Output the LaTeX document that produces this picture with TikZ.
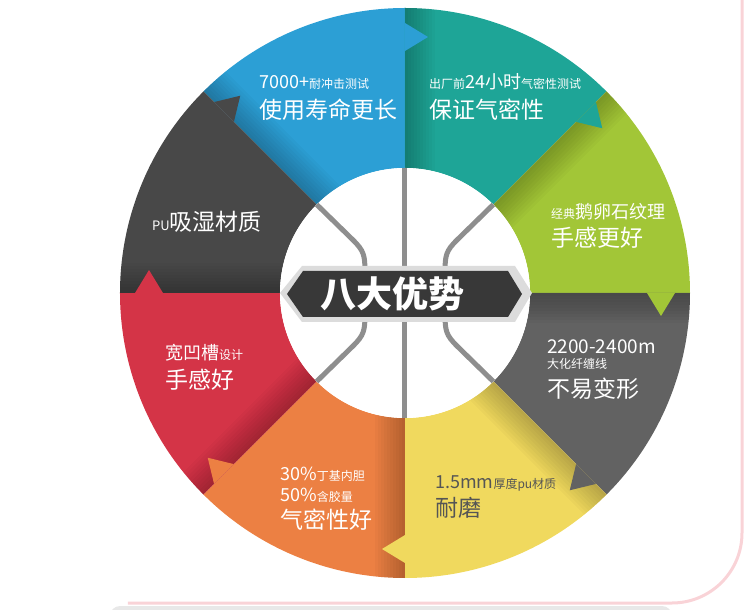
\documentclass[tikz,border=0pt]{standalone}
\usepackage{fontspec}
\newfontfamily\cjk{Noto Sans CJK SC}
\definecolor{segblue}{RGB}{44,159,213}
\definecolor{segteal}{RGB}{30,165,151}
\definecolor{seggreen}{RGB}{162,198,55}
\definecolor{seggrayR}{RGB}{98,98,98}
\definecolor{segyellow}{RGB}{240,217,94}
\definecolor{segorange}{RGB}{236,128,67}
\definecolor{segred}{RGB}{212,52,71}
\definecolor{seggrayL}{RGB}{72,72,72}
\definecolor{seamgray}{RGB}{142,142,142}
\definecolor{bannerdark}{RGB}{56,56,56}
\definecolor{bannerframe}{RGB}{220,220,220}
\definecolor{yellowtext}{RGB}{85,85,85}
\definecolor{framepink}{RGB}{249,211,215}
\definecolor{panelgray}{RGB}{232,232,232}
\newcommand\txtsm[1]{{\fontsize{12}{14}\selectfont #1}}
\newcommand\txtmd[1]{{\fontsize{18}{21}\selectfont #1}}
\newcommand\txtlg[1]{{\fontsize{23}{27}\selectfont #1}}

\begin{document}
\begin{tikzpicture}[x=1pt, y=1pt,
    lbl/.style={anchor=west, inner sep=0pt, text=white, font=\cjk},
    seam/.style={line width=5pt, draw=seamgray}
  ]
  \useasboundingbox (-405,-317) rectangle (345,293);

  % frame of the page
  \fill[panelgray, rounded corners=10pt] (-295,-313) rectangle (267,-345);
  \draw[framepink, line width=3pt] (337,293) -- (337,-240)
    arc[start angle=0, end angle=-90, radius=70] -- (-277,-310);

  % the eight sectors, with a soft shadow on the leading edge
  \foreach \a/\col in {135/segblue, 90/segteal, 45/seggreen, 0/seggrayR,
      -45/segyellow, -90/segorange, -135/segred, 180/seggrayL}{
    \pgfmathsetmacro\b{\a-45}
    \fill[\col] (\a:125) -- (\a:285) arc[start angle=\a, end angle=\b, radius=285]
      -- (\b:125) arc[start angle=\b, end angle=\a, radius=125] -- cycle;
    \begin{scope}
      \clip (\a:125) -- (\a:285) arc[start angle=\a, end angle=\b, radius=285]
        -- (\b:125) arc[start angle=\b, end angle=\a, radius=125] -- cycle;
      \foreach \k in {1,...,10}
        \fill[black, opacity=0.022, rotate=\a] (120,-3*\k) rectangle (290,0);
    \end{scope}
  }
  % arrow tips
  \foreach \b/\col in {90/segblue, 45/segteal, 0/seggreen, -45/seggrayR,
      -90/segyellow, -135/segorange, 180/segred, 135/seggrayL}
    \fill[\col, rotate=\b] (242,0) -- (256,-23) -- (270,0) -- cycle;

  % centre
  \fill[white] (0,0) circle[radius=125];
  \begin{scope}
    \clip (0,0) circle[radius=125];
    \draw[seam] (0,130) -- (0,-130);
    \draw[seam] (135:135) -- (-52,53) .. controls (-41,42) and (-40,38) .. (-40,20);
    \draw[seam] (45:135) -- (52,53) .. controls (41,42) and (40,38) .. (40,20);
    \draw[seam] (-135:135) -- (-52,-53) .. controls (-41,-42) and (-40,-38) .. (-40,-20);
    \draw[seam] (-45:135) -- (52,-53) .. controls (41,-42) and (40,-38) .. (40,-20);
  \end{scope}
  \fill[bannerframe] (-125,0) -- (-103,27) -- (110,27) -- (127,0) -- (110,-29)
    -- (-103,-29) -- cycle;
  \fill[bannerdark] (-118,-1) -- (-102,22) -- (103,22) -- (117,-1) -- (103,-24)
    -- (-102,-24) -- cycle;
  \node[inner sep=0pt, text=white, font=\cjk\bfseries\fontsize{36}{40}\selectfont]
    (title) at (-12,-1) {八大优势};

  % labels
  \node[lbl] (blueA) at (-146,211) {\txtmd{7000+}\txtsm{耐冲击测试}};
  \node[lbl] (blueB) at (-146,183) {\txtlg{使用寿命更长}};
  \node[lbl] (tealA) at (24,211) {\txtsm{出厂前}\txtmd{24小时}\txtsm{气密性测试}};
  \node[lbl] (tealB) at (24,183) {\txtlg{保证气密性}};
  \node[lbl] (greenA) at (146,81) {\txtsm{经典}\txtmd{鹅卵石纹理}};
  \node[lbl] (greenB) at (146,55) {\txtlg{手感更好}};
  \node[lbl] (grayRA) at (142,-54) {{\fontsize{19}{22}\selectfont 2200-2400m}};
  \node[lbl] (grayRB) at (142,-71) {\txtsm{大化纤缠线}};
  \node[lbl] (grayRC) at (142,-96) {\txtlg{不易变形}};
  \node[lbl, text=yellowtext] (yellowA) at (30,-190) {\txtmd{1.5mm}\txtsm{厚度pu材质}};
  \node[lbl, text=yellowtext] (yellowB) at (30,-215) {\txtlg{耐磨}};
  \node[lbl] (orangeA) at (-125,-181) {\txtmd{30\%}\txtsm{丁基内胆}};
  \node[lbl] (orangeB) at (-125,-202) {\txtmd{50\%}\txtsm{含胶量}};
  \node[lbl] (orangeC) at (-125,-227) {\txtlg{气密性好}};
  \node[lbl] (redA) at (-240,-60) {\txtmd{宽凹槽}\txtsm{设计}};
  \node[lbl] (redB) at (-240,-87) {\txtlg{手感好}};
  \node[lbl] (grayLA) at (-253,71) {{\fontsize{13}{15}\selectfont PU}\txtlg{吸湿材质}};
\end{tikzpicture}
\end{document}
